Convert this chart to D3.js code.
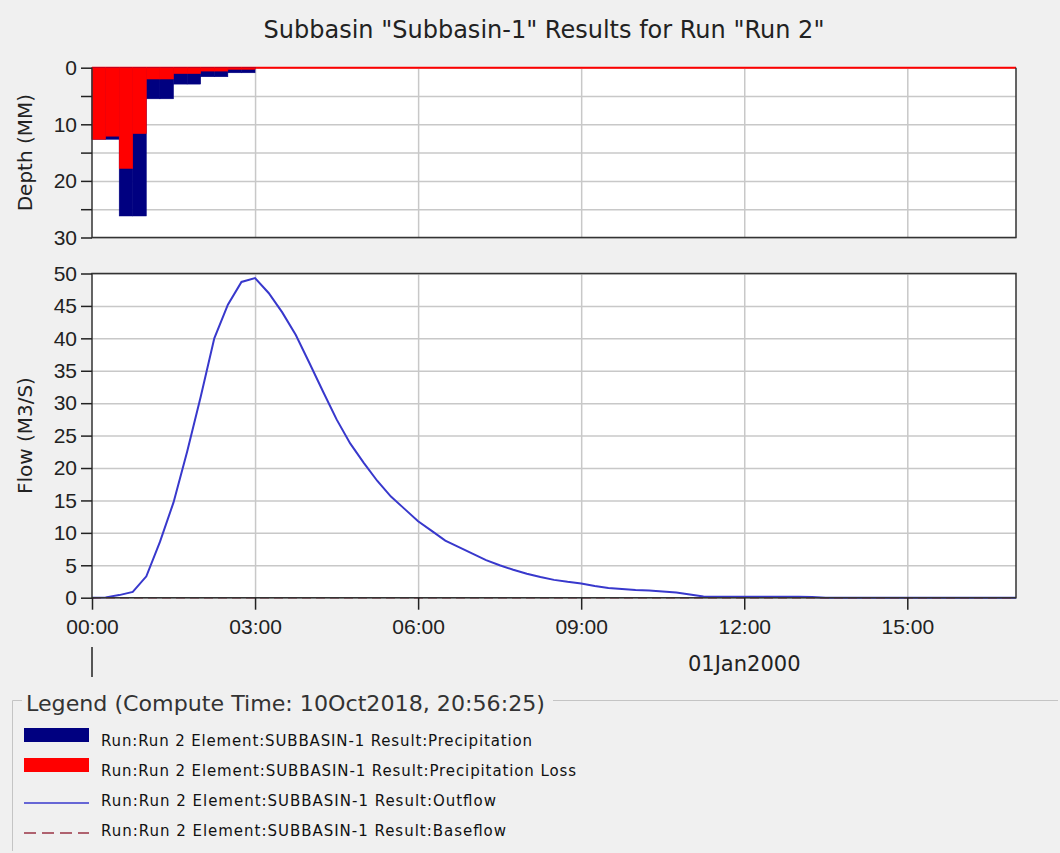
<!DOCTYPE html>
<html>
<head>
<meta charset="utf-8">
<script src="https://cdn.jsdelivr.net/npm/d3@7"></script>
<style>
  html, body { margin: 0; padding: 0; background: #f0f0f0; }
  svg { display: block; font-family: "DejaVu Sans", sans-serif; }
  .grid line { stroke: #c8c8c8; stroke-width: 1.5; }
  .grid path { display: none; }
  .axis path { display: none; }
  .axis line { stroke: #222; stroke-width: 1.5; }
  .axis text { fill: #222; font-size: 21px; }
</style>
</head>
<body>
<svg id="chart" width="1060" height="853"></svg>
<script>
// 15 minute precipitation intervals (start hour)
const barStartHours = [0, 0.25, 0.5, 0.75, 1.0, 1.25, 1.5, 1.75, 2.0, 2.25, 2.5, 2.75]
const precipDepth = [12.65, 12.65, 26.2, 26.2, 5.5, 5.5, 2.9, 2.9, 1.6, 1.6, 0.9, 0.9]
const lossDepth = [12.65, 12.1, 17.8, 11.65, 2.0, 2.0, 1.05, 1.05, 0.6, 0.6, 0.3, 0.3]
const barHours = 0.25

// outflow, every 15 minutes from 00:00 to 17:00
const outflow = [
    0, 0.05, 0.4, 0.9, 3.3, 8.6, 14.7, 22.5, 31.0, 40.0, 45.2, 48.7, 49.3,
    47.0, 44.0, 40.5, 36.2, 31.8, 27.5, 23.8, 20.8, 18.0, 15.6, 13.7, 11.8,
    10.3, 8.8, 7.8, 6.8, 5.8, 5.0, 4.3, 3.7, 3.2, 2.75, 2.45, 2.2, 1.8, 1.5,
    1.35, 1.2, 1.1, 0.95, 0.8, 0.5, 0.2, 0.15, 0.15, 0.15, 0.15, 0.15, 0.15,
    0.15, 0.1, 0, 0, 0, 0, 0, 0, 0, 0, 0, 0, 0, 0, 0, 0, 0
]
const outflowStep = 0.25
const baseflow = [0, 0]
const baseflowHours = [0, 17]

const hourTicks = [0, 3, 6, 9, 12, 15]
const depthTicks = [0, 5, 10, 15, 20, 25, 30]
const depthLabels = [0, 10, 20, 30]
const flowTicks = [0, 5, 10, 15, 20, 25, 30, 35, 40, 45, 50]

const titleText = 'Subbasin "Subbasin-1" Results for Run "Run 2"'
const dateText = "01Jan2000"
const legendTitle = "Legend (Compute Time: 10Oct2018, 20:56:25)"
const legendLabels = [
    "Run:Run 2 Element:SUBBASIN-1 Result:Precipitation",
    "Run:Run 2 Element:SUBBASIN-1 Result:Precipitation Loss",
    "Run:Run 2 Element:SUBBASIN-1 Result:Outflow",
    "Run:Run 2 Element:SUBBASIN-1 Result:Baseflow"
]

const colPrecip = "#000080"
const colLoss = "#ff0000"
const colOut = "#3838cc"
const colBase = "#993344"

let svg = d3.select("#chart")

const area = { left: 92, right: 1016, topA: 67.7, topB: 237.5, botA: 273.5, botB: 597.7 }

let scX = d3.scaleLinear().domain([0, 17]).range([area.left, area.right])
let scDepth = d3.scaleLinear().domain([0, 30]).range([area.topA, area.topB])
let scFlow = d3.scaleLinear().domain([0, 50]).range([area.botB, area.botA])

// title
svg.append("text")
    .attr("x", 544).attr("y", 38)
    .attr("text-anchor", "middle")
    .style("font-size", "24px").style("fill", "#222")
    .text(titleText)

// panel backgrounds
function panel(y0, y1) {
    svg.append("rect")
        .attr("x", area.left).attr("y", y0)
        .attr("width", area.right - area.left).attr("height", y1 - y0)
        .style("fill", "#fff")
}
panel(area.topA, area.topB)
panel(area.botA, area.botB)

// grid lines
function grid(y0, y1, scY, ticks) {
    svg.append("g").attr("class", "grid")
        .attr("transform", `translate(0, ${y1})`)
        .call(d3.axisBottom(scX).tickValues(hourTicks.slice(1)).tickSize(-(y1 - y0)).tickFormat(""))
    svg.append("g").attr("class", "grid")
        .attr("transform", `translate(${area.left}, 0)`)
        .call(d3.axisLeft(scY).tickValues(ticks).tickSize(-(area.right - area.left)).tickFormat(""))
}
grid(area.topA, area.topB, scDepth, depthTicks)
grid(area.botA, area.botB, scFlow, flowTicks)

// precipitation and loss bars
let bars = barStartHours.map((h, i) => ({ h: h, p: precipDepth[i], l: lossDepth[i] }))

svg.append("line")
    .attr("x1", scX(0)).attr("x2", scX(17))
    .attr("y1", scDepth(0)).attr("y2", scDepth(0))
    .style("stroke", colLoss).style("stroke-width", 2)

svg.selectAll(".pbar")
    .data(bars).enter().append("rect")
    .attr("class", "pbar")
    .attr("x", d => scX(d.h))
    .attr("y", scDepth(0))
    .attr("width", d => scX(d.h + barHours) - scX(d.h))
    .attr("height", d => scDepth(d.p) - scDepth(0))
    .style("fill", colPrecip)
    .style("stroke", colPrecip).style("stroke-width", 0.5)

svg.selectAll(".lbar")
    .data(bars).enter().append("rect")
    .attr("class", "lbar")
    .attr("x", d => scX(d.h))
    .attr("y", scDepth(0))
    .attr("width", d => scX(d.h + barHours) - scX(d.h))
    .attr("height", d => scDepth(d.l) - scDepth(0))
    .style("fill", colLoss)
    .style("stroke", colLoss).style("stroke-width", 0.5)

// outflow and baseflow
const lineGen = d3.line()
    .x(d => scX(d.t))
    .y(d => scFlow(d.v))

svg.append("path")
    .datum(outflow.map((v, i) => ({ t: i * outflowStep, v: v })))
    .attr("d", lineGen)
    .style("fill", "none").style("stroke", colOut).style("stroke-width", 2)

svg.append("path")
    .datum(baseflow.map((v, i) => ({ t: baseflowHours[i], v: v })))
    .attr("d", lineGen)
    .style("fill", "none").style("stroke", colBase).style("stroke-width", 1.5)
    .style("stroke-dasharray", "9,5")

// panel borders
function border(y0, y1) {
    svg.append("path")
        .attr("d", `M${area.left},${y0}H${area.right}V${y1}H${area.left}Z`)
        .style("fill", "none").style("stroke", "#333").style("stroke-width", 1.5)
}
border(area.botA, area.botB)
svg.append("path")
    .attr("d", `M${area.right},${area.topA}V${area.topB}H${area.left}V${area.topA}`)
    .style("fill", "none").style("stroke", "#333").style("stroke-width", 1.5)

// axes
svg.append("g").attr("class", "axis")
    .attr("transform", `translate(${area.left}, 0)`)
    .call(d3.axisLeft(scDepth).tickValues(depthTicks).tickSize(11).tickPadding(4)
        .tickFormat(d => depthLabels.includes(d) ? d : ""))

svg.append("g").attr("class", "axis")
    .attr("transform", `translate(${area.left}, 0)`)
    .call(d3.axisLeft(scFlow).tickValues(flowTicks).tickSize(11).tickPadding(4))

svg.append("g").attr("class", "axis")
    .attr("transform", `translate(0, ${area.botB})`)
    .call(d3.axisBottom(scX).tickValues(hourTicks).tickSize(12).tickPadding(9)
        .tickFormat(d => d3.format("02d")(d) + ":00"))

// axis titles
svg.append("text")
    .attr("transform", `translate(32, ${(area.topA + area.topB) / 2}) rotate(-90)`)
    .attr("text-anchor", "middle")
    .style("font-size", "20px").style("fill", "#222")
    .text("Depth (MM)")

svg.append("text")
    .attr("transform", `translate(32, ${(area.botA + area.botB) / 2}) rotate(-90)`)
    .attr("text-anchor", "middle")
    .style("font-size", "20px").style("fill", "#222")
    .text("Flow (M3/S)")

// date marker
svg.append("line")
    .attr("x1", scX(0)).attr("x2", scX(0))
    .attr("y1", 647).attr("y2", 677)
    .style("stroke", "#222").style("stroke-width", 1.5)

svg.append("text")
    .attr("x", scX(12)).attr("y", 671)
    .attr("text-anchor", "middle")
    .style("font-size", "21px").style("fill", "#222")
    .text(dateText)

// legend box
svg.append("path")
    .attr("d", "M22,700.5H12.5V851")
    .style("fill", "none").style("stroke", "#c4c4c4").style("stroke-width", 1)
svg.append("path")
    .attr("d", "M553,700.5H1058")
    .style("fill", "none").style("stroke", "#c4c4c4").style("stroke-width", 1)

svg.append("text")
    .attr("x", 26).attr("y", 711)
    .attr("textLength", 519).attr("lengthAdjust", "spacingAndGlyphs")
    .style("font-size", "22px").style("fill", "#333")
    .text(legendTitle)

const legendRows = [746, 776, 806, 836]
const legendWidths = [431, 475, 395, 405]
let lg = svg.append("g")

legendLabels.forEach((label, i) => {
    let y = legendRows[i]
    if (i < 2) {
        lg.append("rect")
            .attr("x", 24).attr("y", y - 18)
            .attr("width", 65).attr("height", 14)
            .style("fill", i == 0 ? colPrecip : colLoss)
    } else {
        lg.append("line")
            .attr("x1", 24).attr("x2", 89)
            .attr("y1", y - 3).attr("y2", y - 3)
            .style("stroke", i == 2 ? colOut : colBase)
            .style("stroke-width", 1.5)
            .style("stroke-dasharray", i == 3 ? "12,6" : null)
    }
    lg.append("text")
        .attr("x", 101).attr("y", y)
        .attr("textLength", legendWidths[i]).attr("lengthAdjust", "spacing")
        .style("font-size", "15px").style("fill", "#111")
        .text(label)
})
</script>
</body>
</html>
